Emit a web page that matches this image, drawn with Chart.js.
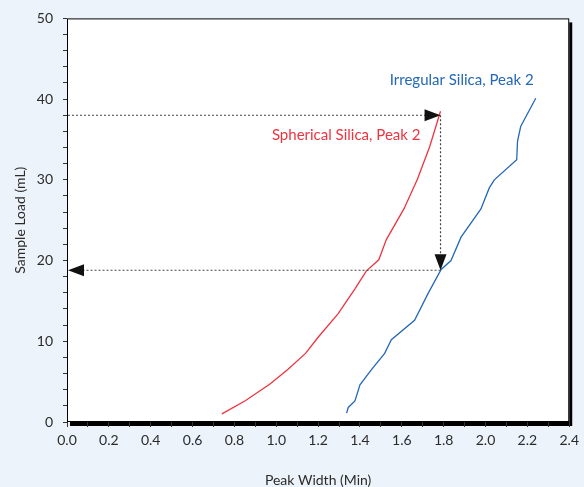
<!DOCTYPE html>
<html>
<head>
<meta charset="utf-8">
<script src="https://cdn.jsdelivr.net/npm/chart.js@4/dist/chart.umd.min.js"></script>
<style>
    html, body { margin: 0; padding: 0; background: #edf3fa; }
    #grafico { display: block; }
</style>
</head>
<body>
<canvas id="grafico" width="584" height="487"></canvas>
<script>
// Spherical Silica, Peak 2
var esfericaX = [0.74, 0.85, 0.97, 1.055, 1.14, 1.20, 1.295, 1.376, 1.43, 1.49, 1.526, 1.61, 1.675, 1.733, 1.785];
var esfericaY = [1.0, 2.6, 4.7, 6.5, 8.5, 10.5, 13.4, 16.5, 18.7, 20.1, 22.6, 26.4, 30.1, 34.1, 38.5];

// Irregular Silica, Peak 2
var irregularX = [1.336, 1.344, 1.376, 1.40, 1.455, 1.518, 1.55, 1.661, 1.725, 1.788, 1.835, 1.883, 1.978, 2.018, 2.042, 2.149, 2.153, 2.168, 2.24];
var irregularY = [1.1, 1.8, 2.6, 4.6, 6.5, 8.5, 10.2, 12.6, 15.9, 18.9, 20.0, 22.9, 26.4, 29.0, 30.0, 32.5, 34.8, 36.6, 40.1];

var rotulosSeries = ['Spherical Silica, Peak 2', 'Irregular Silica, Peak 2'];
var posicaoRotulosX = [1.334, 1.886];
var posicaoRotulosY = [35.5, 42.4];

// linhas guia pontilhadas
var guiaX = 1.785;
var guiaAlto = 38;
var guiaBaixo = 18.8;

var eixoX = { min: 0, max: 2.4, passo: 0.1, titulo: 'Peak Width (Min)' };
var eixoY = { min: 0, max: 50, passo: 2, titulo: 'Sample Load (mL)' };

(function () {
    var corVermelha = '#ee343f';
    var corAzul = '#2468b6';
    var corTexto = '#2b2b2b';
    var fonte = 'Lato, "Open Sans", sans-serif';

    function montarPontos(xs, ys) {
        return xs.map(function (x, i) { return { x: x, y: ys[i] }; });
    }

    var moldura = {
        id: 'moldura',
        beforeDraw: function (chart) {
            var ctx = chart.ctx;
            var area = chart.chartArea;
            ctx.save();
            ctx.fillStyle = '#edf3fa';
            ctx.fillRect(0, 0, chart.width, chart.height);
            ctx.fillStyle = '#000000';
            ctx.fillRect(area.left + 3, area.top + 4, area.right - area.left, area.bottom - area.top);
            ctx.fillStyle = '#ffffff';
            ctx.fillRect(area.left, area.top, area.right - area.left, area.bottom - area.top);
            ctx.strokeStyle = '#000000';
            ctx.lineWidth = 1;
            ctx.strokeRect(area.left + 0.5, area.top + 0.5, area.right - area.left - 1, area.bottom - area.top - 1);
            ctx.restore();
        }
    };

    function desenharSeta(ctx, x, y, direcao) {
        var comp = 16;
        var meia = 6;
        ctx.beginPath();
        ctx.moveTo(x, y);
        if (direcao === 'direita') {
            ctx.lineTo(x - comp, y - meia);
            ctx.lineTo(x - comp, y + meia);
        } else if (direcao === 'esquerda') {
            ctx.lineTo(x + comp, y - meia);
            ctx.lineTo(x + comp, y + meia);
        } else {
            ctx.lineTo(x - meia, y - comp);
            ctx.lineTo(x + meia, y - comp);
        }
        ctx.closePath();
        ctx.fill();
    }

    var guias = {
        id: 'guias',
        afterDatasetsDraw: function (chart) {
            var ctx = chart.ctx;
            var sx = chart.scales.x;
            var sy = chart.scales.y;
            var x0 = sx.getPixelForValue(0) + 1;
            var xg = sx.getPixelForValue(guiaX);
            var ya = sy.getPixelForValue(guiaAlto);
            var yb = sy.getPixelForValue(guiaBaixo);

            ctx.save();
            ctx.strokeStyle = '#444444';
            ctx.lineWidth = 1.2;
            ctx.setLineDash([2, 2]);
            ctx.beginPath();
            ctx.moveTo(x0, ya);
            ctx.lineTo(xg - 14, ya);
            ctx.moveTo(xg, ya);
            ctx.lineTo(xg, yb - 14);
            ctx.moveTo(xg, yb);
            ctx.lineTo(x0 + 14, yb);
            ctx.stroke();
            ctx.setLineDash([]);
            ctx.fillStyle = '#111111';
            desenharSeta(ctx, xg, ya, 'direita');
            desenharSeta(ctx, xg, yb, 'baixo');
            desenharSeta(ctx, x0, yb, 'esquerda');

            ctx.font = '15px ' + fonte;
            ctx.textAlign = 'center';
            ctx.textBaseline = 'middle';
            ctx.fillStyle = corVermelha;
            ctx.fillText(rotulosSeries[0], sx.getPixelForValue(posicaoRotulosX[0]), sy.getPixelForValue(posicaoRotulosY[0]));
            ctx.fillStyle = corAzul;
            ctx.fillText(rotulosSeries[1], sx.getPixelForValue(posicaoRotulosX[1]), sy.getPixelForValue(posicaoRotulosY[1]));
            ctx.restore();
        }
    };

    new Chart(document.getElementById('grafico').getContext('2d'), {
        type: 'scatter',
        data: {
            datasets: [{
                label: rotulosSeries[0],
                data: montarPontos(esfericaX, esfericaY),
                showLine: true,
                borderColor: corVermelha,
                borderWidth: 1.3,
                pointRadius: 0,
                tension: 0
            }, {
                label: rotulosSeries[1],
                data: montarPontos(irregularX, irregularY),
                showLine: true,
                borderColor: corAzul,
                borderWidth: 1.3,
                pointRadius: 0,
                tension: 0
            }]
        },
        options: {
            responsive: false,
            animation: false,
            devicePixelRatio: 1,
            layout: { padding: { top: 17, right: 12, left: 0, bottom: 0 } },
            plugins: {
                legend: { display: false },
                tooltip: { enabled: false }
            },
            scales: {
                x: {
                    type: 'linear',
                    min: eixoX.min,
                    max: eixoX.max,
                    afterFit: function (scale) { scale.height = 65; },
                    border: { display: false },
                    grid: { drawOnChartArea: false, tickLength: 5, color: '#333333', lineWidth: 1 },
                    ticks: {
                        stepSize: eixoX.passo,
                        autoSkip: false,
                        maxRotation: 0,
                        padding: 5,
                        color: corTexto,
                        font: { family: fonte, size: 14 },
                        callback: function (valor) {
                            var n = Math.round(valor * 10);
                            return n % 2 === 0 ? (n / 10).toFixed(1) : '';
                        }
                    },
                    title: {
                        display: true,
                        text: eixoX.titulo,
                        color: corTexto,
                        font: { family: fonte, size: 14, lineHeight: 1 },
                        padding: { top: 0, bottom: 0 }
                    }
                },
                y: {
                    type: 'linear',
                    min: eixoY.min,
                    max: eixoY.max,
                    afterFit: function (scale) { scale.width = 67; },
                    border: { display: false },
                    grid: { drawOnChartArea: false, tickLength: 4, color: '#333333', lineWidth: 1 },
                    ticks: {
                        stepSize: eixoY.passo,
                        autoSkip: false,
                        padding: 10,
                        color: corTexto,
                        font: { family: fonte, size: 14 },
                        callback: function (valor) {
                            return valor % 10 === 0 ? String(valor) : '';
                        }
                    },
                    title: {
                        display: true,
                        text: eixoY.titulo,
                        color: corTexto,
                        font: { family: fonte, size: 14, lineHeight: 1 },
                        padding: { top: 13, bottom: 0 }
                    }
                }
            }
        },
        plugins: [moldura, guias]
    });
})();
</script>
</body>
</html>
